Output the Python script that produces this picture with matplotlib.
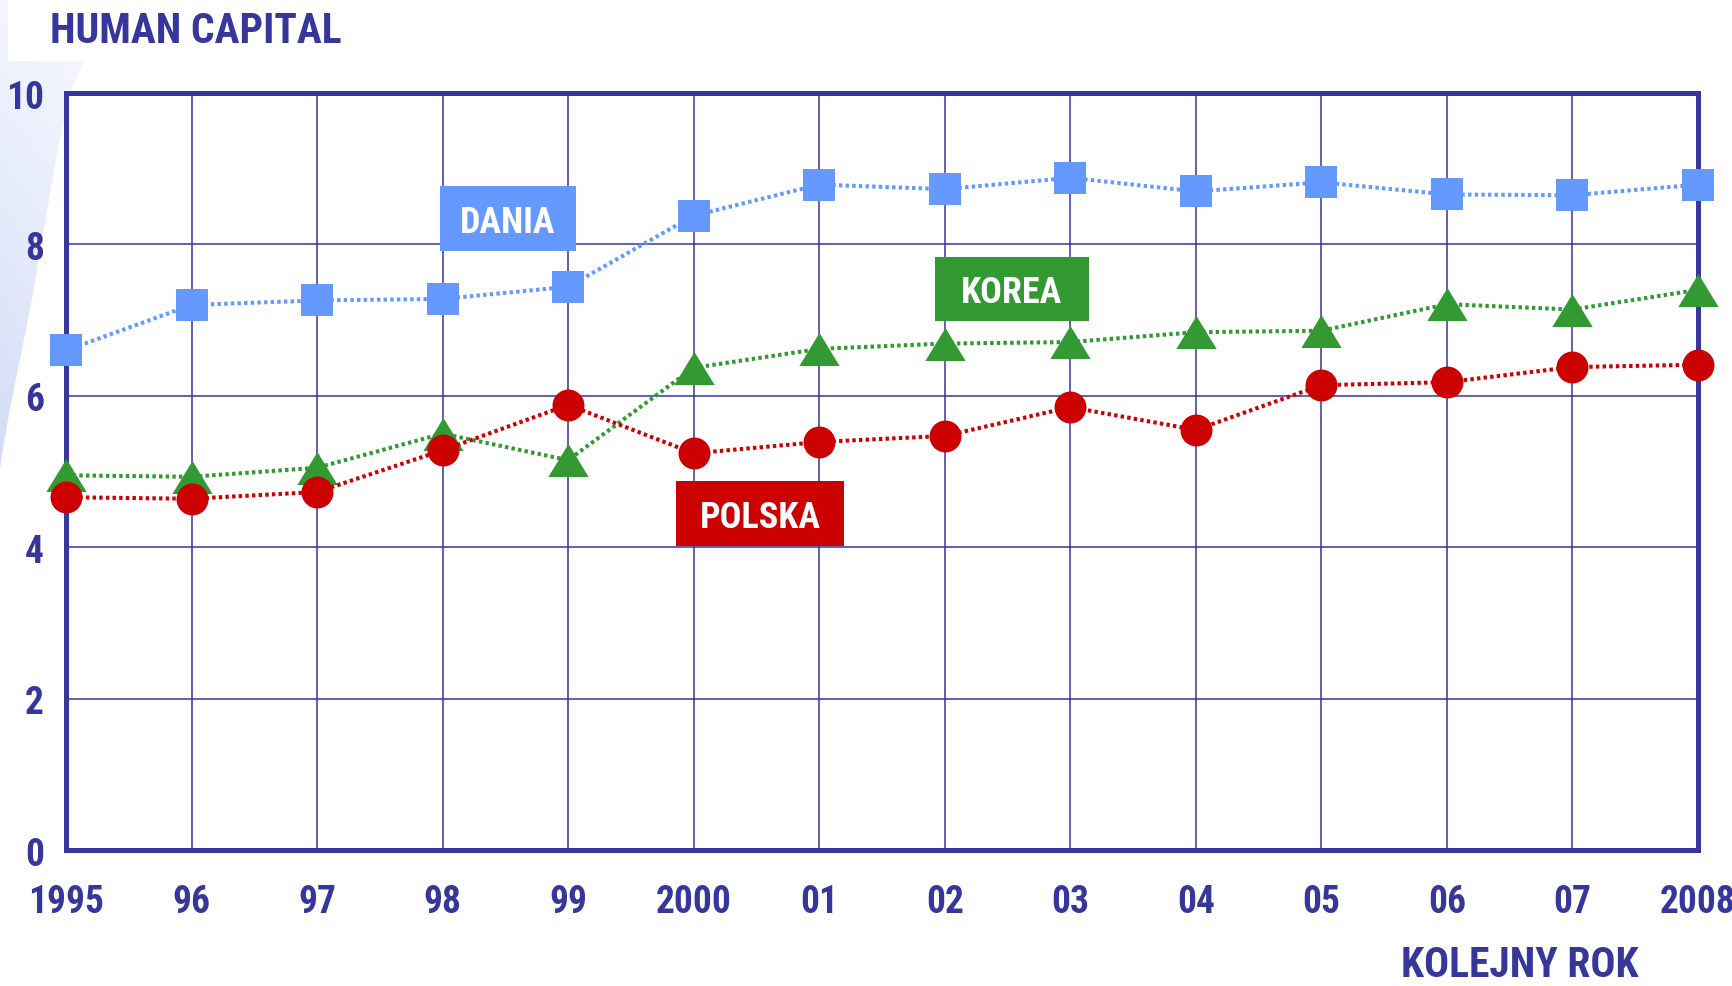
import numpy as np
import matplotlib.pyplot as plt
from matplotlib.path import Path
from matplotlib.patches import PathPatch, Rectangle

plt.rcParams['font.family'] = ['Roboto Condensed', 'Liberation Sans', 'DejaVu Sans']
plt.rcParams['font.weight'] = 'bold'

# data
years = [1995, 1996, 1997, 1998, 1999, 2000, 2001, 2002, 2003, 2004, 2005, 2006, 2007, 2008]
year_labels = ['1995', '96', '97', '98', '99', '2000', '01', '02', '03', '04', '05', '06', '07', '2008']
dania = [6.60, 7.20, 7.26, 7.28, 7.44, 8.38, 8.79, 8.73, 8.88, 8.70, 8.82, 8.66, 8.65, 8.79]
korea = [4.95, 4.93, 5.05, 5.50, 5.15, 6.37, 6.62, 6.69, 6.71, 6.84, 6.86, 7.21, 7.14, 7.40]
polska = [4.66, 4.64, 4.73, 5.28, 5.88, 5.24, 5.39, 5.47, 5.85, 5.55, 6.14, 6.18, 6.38, 6.41]
y_ticks = [0, 2, 4, 6, 8, 10]

# series label boxes: text, x0, x1, y0, y1, colour
labels = [('DANIA', 1997.98, 1999.06, 7.91, 8.77, '#6699FF'),
          ('KOREA', 2001.92, 2003.15, 6.99, 7.83, '#339933'),
          ('POLSKA', 1999.86, 2001.20, 4.01, 4.87, '#CC0000')]

navy = '#36369B'
W, H = 1733, 987

fig = plt.figure(figsize=(W / 100, H / 100), dpi=100)

# pale blue swoosh in the top left corner
bg = fig.add_axes([0, 0, 1, 1], zorder=-5)
bg.set_xlim(0, W)
bg.set_ylim(H, 0)
bg.axis('off')
yy, xx = np.mgrid[0:480, 0:100]
t = (yy / 480.0)[..., None]
fade = (xx / 100.0)[..., None]
top = np.array([0.955, 0.965, 0.995])
bottom = np.array([0.82, 0.86, 0.965])
grad = top + (bottom - top) * t
grad = grad + (1 - grad) * 0.35 * fade
im = bg.imshow(grad, extent=(0, 100, 480, 0), aspect='auto', interpolation='bilinear')
verts = [(0, 0), (8, 0), (8, 62), (83, 62), (68, 100), (56, 160), (44, 230),
         (32, 300), (20, 360), (9, 415), (2, 455), (0, 470), (0, 0)]
codes = [Path.MOVETO] + [Path.LINETO] * (len(verts) - 2) + [Path.CLOSEPOLY]
clip = PathPatch(Path(verts, codes), transform=bg.transData, facecolor='none', edgecolor='none')
bg.add_patch(clip)
im.set_clip_path(clip)

ax = fig.add_axes([66 / W, 1 - 851 / H, (1698 - 66) / W, (851 - 94) / H])
ax.set_facecolor('white')

ls = (0, (0.85, 0.8))
tri = Path([(0, 0.41), (-0.5, -0.41), (0.5, -0.41), (0, 0.41)],
           [Path.MOVETO, Path.LINETO, Path.LINETO, Path.CLOSEPOLY])

ax.plot(years, dania, color='#6699FF', linestyle=ls, lw=2.9, dash_capstyle='butt',
        marker='s', markersize=23, markeredgewidth=0, clip_on=False, zorder=5)
ax.plot(years, korea, color='#339933', linestyle=ls, lw=2.9, dash_capstyle='butt',
        marker=tri, markersize=29, markeredgewidth=0, clip_on=False, zorder=5)
ax.plot(years, polska, color='#CC0000', linestyle=ls, lw=2.9, dash_capstyle='butt',
        marker='o', markersize=23, markeredgewidth=0, clip_on=False, zorder=5)

for name, x0, x1, y0, y1, col in labels:
    ax.add_patch(Rectangle((x0, y0), x1 - x0, y1 - y0, facecolor=col,
                           edgecolor='none', zorder=6))
    ax.annotate(name, ((x0 + x1) / 2, (y0 + y1) / 2), xytext=(0, -9.3),
                textcoords='offset points', color='white', fontsize=26,
                ha='center', va='baseline', zorder=7)

ax.set_xlim(years[0], years[-1])
ax.set_ylim(0, 10)
ax.set_xticks(years)
ax.set_xticklabels(year_labels)
ax.set_yticks(y_ticks)
ax.tick_params(length=0, labelsize=27, labelcolor=navy)
ax.tick_params(axis='x', pad=24)
ax.tick_params(axis='y', pad=16)
ax.grid(True, color=navy, lw=1.1)
ax.set_axisbelow(True)
for s in ax.spines.values():
    s.set_color(navy)
    s.set_linewidth(3.6)
    s.set_zorder(4)

fig.text(50 / W, 1 - 43 / H, 'HUMAN CAPITAL', fontsize=30, color=navy, ha='left', va='baseline')
fig.text(1401 / W, 1 - 977 / H, 'KOLEJNY ROK', fontsize=30, color=navy, ha='left', va='baseline')

fig.savefig('out.png', dpi=100)
